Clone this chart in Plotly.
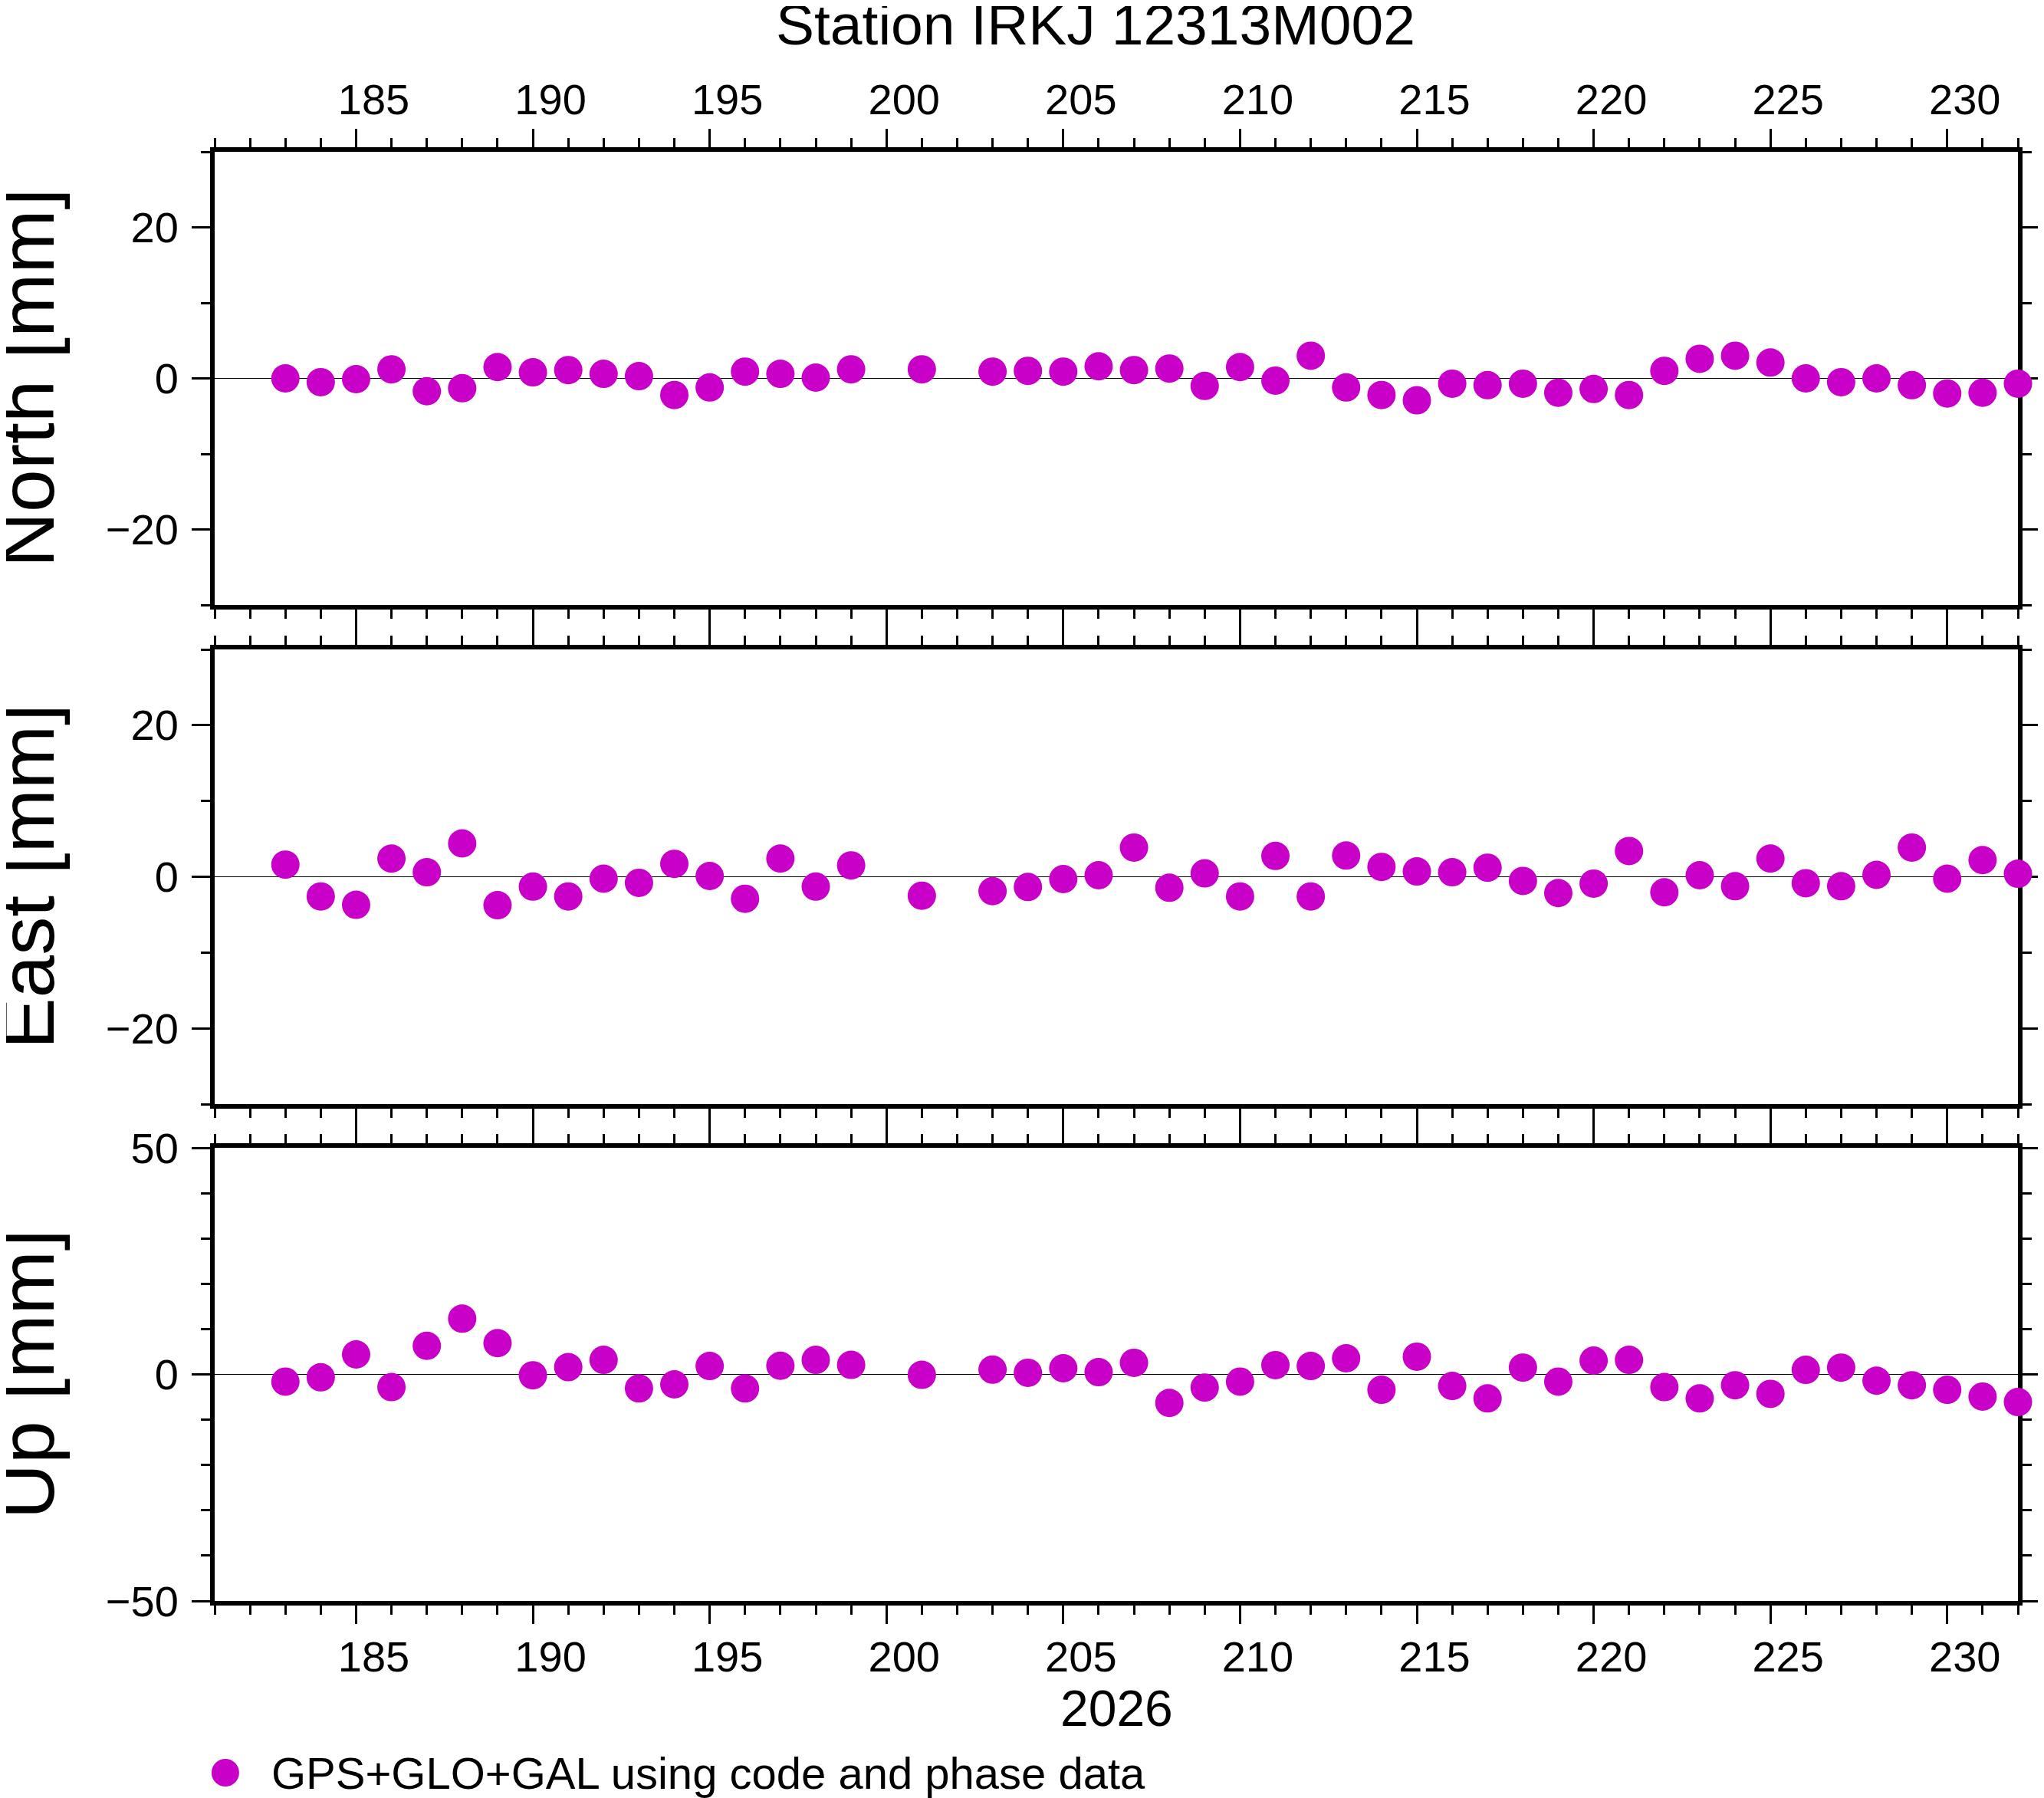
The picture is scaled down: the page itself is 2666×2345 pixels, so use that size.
import plotly.graph_objects as go

# 資料 (day of year 2026, 單位 mm)
days = list(range(183, 200)) + [201] + list(range(203, 233))

north = [0.0, -0.5, -0.1, 1.2, -1.7, -1.3, 1.5, 0.8, 1.1, 0.6, 0.3, -2.2, -1.2, 0.9, 0.6, 0.1, 1.2,
         1.2,
         0.9, 1.0, 0.9, 1.6, 1.1, 1.3, -1.0, 1.5, -0.3, 3.0, -1.2, -2.2, -2.9, -0.7, -0.9,
         -0.7, -1.9, -1.4, -2.2, 1.0, 2.6, 3.0, 2.1, 0.0, -0.5, 0.0, -0.9, -2.0, -1.9, -0.7]

east = [1.6, -2.6, -3.7, 2.4, 0.6, 4.4, -3.75, -1.3, -2.6, -0.25, -0.8, 1.7, 0.1, -2.9, 2.4, -1.3, 1.5,
        -2.5,
        -1.9, -1.35, -0.3, 0.2, 3.85, -1.45, 0.45, -2.6, 2.75, -2.6, 2.8, 1.3, 0.7, 0.6, 1.2,
        -0.55, -2.15, -0.9, 3.4, -2.05, 0.2, -1.25, 2.4, -0.85, -1.25, 0.25, 3.85, -0.25, 2.2, 0.4]

up = [-1.6, -0.65, 4.4, -2.8, 6.3, 12.3, 6.9, -0.2, 1.6, 3.2, -3.1, -2.2, 1.85, -3.1, 1.9, 3.2, 2.1,
      -0.1,
      1.05, 0.35, 1.35, 0.5, 2.55, -6.3, -2.9, -1.6, 2.05, 1.85, 3.55, -3.4, 3.9, -2.55, -5.3,
      1.5, -1.6, 3.05, 3.2, -2.8, -5.3, -2.4, -4.3, 1.0, 1.5, -1.4, -2.4, -3.4, -4.9, -6.1]

panel_names = ["North [mm]", "East [mm]", "Up [mm]"]
y_ranges = [[-30, 30], [-30, 30], [-50, 50]]
y_dticks = [20, 20, 50]
x_range = [181, 232]
year_label = "2026"
station_title = "Station IRKJ 12313M002"
legend_label = "GPS+GLO+GAL using code and phase data"

W, H = 2666, 2345
OFF = 8  # 瀏覽器 body 預設邊距
TOP, BOTTOM, LEFT = 198, 2088, 280   # 繪圖區在頁面上的位置
plot_w, plot_h = 2368, BOTTOM - TOP
ML, MT = LEFT - OFF, TOP - OFF
MR = W - ML - plot_w
MB = H - MT - plot_h


def px_x(x):
    # 頁面像素 x -> paper 座標
    return (x - LEFT) / plot_w


def px_y(y):
    # 頁面像素 y -> paper 座標
    return (BOTTOM - y) / plot_h


# 三個面板的 y domain
domains = [[px_y(789), 1.0],
           [px_y(1440), px_y(847)],
           [0.0, px_y(1497)]]

FONT = "Liberation Sans, Arial, sans-serif"
MAGENTA = "#C800C8"

fig = go.Figure()

for i, vals in enumerate([north, east, up]):
    fig.add_trace(go.Scatter(
        x=days,
        y=vals,
        mode='markers',
        name=legend_label,
        marker=dict(size=37, color=MAGENTA),
        cliponaxis=False,
        showlegend=False,
        xaxis='x' if i == 0 else f'x{i + 1}',
        yaxis='y' if i == 0 else f'y{i + 1}',
    ))

layout = dict(
    width=W, height=H,
    margin=dict(l=ML, r=MR, t=MT, b=MB),
    paper_bgcolor='white',
    plot_bgcolor='white',
    font=dict(family=FONT, size=56, color='black'),
    showlegend=False,
)

for i in range(3):
    xs = '' if i == 0 else str(i + 1)
    ax = dict(
        range=x_range,
        domain=[0, 1],
        anchor='y' + xs,
        tick0=185, dtick=5,
        ticks='outside', ticklen=24, tickwidth=3, tickcolor='black',
        minor=dict(dtick=1, ticks='outside', ticklen=12, tickwidth=3, tickcolor='black'),
        showline=True, linewidth=6, linecolor='black', mirror='allticks',
        showgrid=False, zeroline=False,
        layer='below traces',
        tickfont=dict(size=56),
        ticklabelshift=23,  # 標籤置於當天中間
    )
    if i == 0:
        ax['side'] = 'top'
        ax['ticklabelstandoff'] = -3
    elif i == 1:
        ax['showticklabels'] = False
    else:
        ax['ticklabelstandoff'] = -5
    if i > 0:
        ax['matches'] = 'x'
    ay = dict(
        range=y_ranges[i],
        domain=domains[i],
        anchor='x' + xs,
        tick0=0, dtick=y_dticks[i],
        ticks='outside', ticklen=24, tickwidth=3, tickcolor='black',
        minor=dict(dtick=10, ticks='outside', ticklen=12, tickwidth=3, tickcolor='black'),
        showline=True, linewidth=6, linecolor='black', mirror='allticks',
        showgrid=False,
        zeroline=True, zerolinecolor='black', zerolinewidth=1,
        layer='below traces',
        tickfont=dict(size=56),
        ticklabelstandoff=6,
    )
    layout['xaxis' + xs] = ax
    layout['yaxis' + xs] = ay

annotations = []
# 各面板的 y 軸標題
for i, name in enumerate(panel_names):
    annotations.append(dict(
        text=name, textangle=-90,
        xref='paper', yref='paper',
        x=px_x(33), y=sum(domains[i]) / 2,
        xanchor='center', yanchor='middle',
        showarrow=False, font=dict(size=100),
    ))

# 年份 (x 軸標題)
annotations.append(dict(
    text=year_label, xref='paper', yref='paper',
    x=0.5, y=px_y(2228),
    xanchor='center', yanchor='middle',
    showarrow=False, font=dict(size=66),
))

# 標題
annotations.append(dict(
    text=station_title, xref='paper', yref='paper',
    x=px_x(1437), y=px_y(32),
    xanchor='center', yanchor='middle',
    showarrow=False, font=dict(size=75),
))

# 自製圖例 (文字)
legend_y = px_y(2312)
annotations.append(dict(
    text=legend_label, xref='paper', yref='paper',
    x=px_x(352), y=legend_y,
    xanchor='left', yanchor='middle',
    showarrow=False, font=dict(size=58),
))
layout['annotations'] = annotations

# 圖例圓點
layout['shapes'] = [dict(
    type='circle', xref='paper', yref='paper',
    xsizemode='pixel', ysizemode='pixel',
    xanchor=px_x(294), yanchor=legend_y,
    x0=-18, x1=18, y0=-18, y1=18,
    fillcolor=MAGENTA, line=dict(width=0),
)]

fig.update_layout(**layout)

fig.write_html("out.html")
